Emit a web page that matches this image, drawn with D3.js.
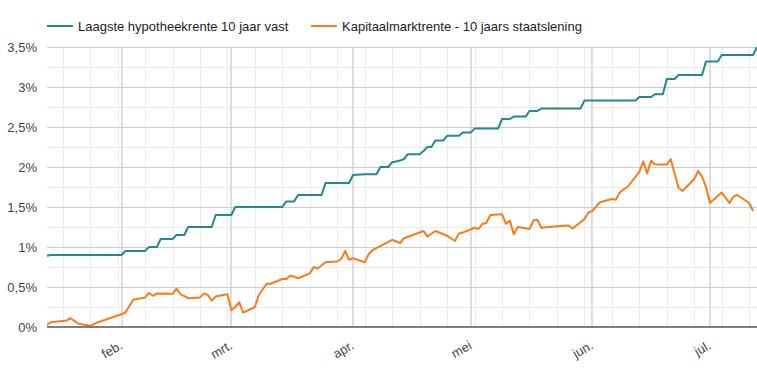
<!DOCTYPE html>
<html>
<head>
<meta charset="utf-8">
<script src="https://cdn.jsdelivr.net/npm/d3@7"></script>
<style>
  body { margin: 0; background: #fff; }
  svg { font-family: "Liberation Sans", Arial, sans-serif; }
</style>
</head>
<body>
<div id="chart"></div>
<script>
// Laagste hypotheekrente 10 jaar vast (%)
const hypotheekrente = [
    ['2022-01-13', 0.89], ['2022-01-14', 0.90], ['2022-02-01', 0.90], ['2022-02-02', 0.95],
    ['2022-02-07', 0.95], ['2022-02-08', 1.00], ['2022-02-10', 1.00], ['2022-02-11', 1.10],
    ['2022-02-14', 1.10], ['2022-02-15', 1.15], ['2022-02-17', 1.15], ['2022-02-18', 1.25],
    ['2022-02-24', 1.25], ['2022-02-25', 1.40], ['2022-03-01', 1.40], ['2022-03-02', 1.50],
    ['2022-03-14', 1.50], ['2022-03-15', 1.57], ['2022-03-17', 1.57], ['2022-03-18', 1.65],
    ['2022-03-24', 1.65], ['2022-03-25', 1.80], ['2022-03-31', 1.80], ['2022-04-01', 1.90],
    ['2022-04-04', 1.91], ['2022-04-07', 1.91], ['2022-04-08', 2.00], ['2022-04-10', 2.00],
    ['2022-04-11', 2.06], ['2022-04-12', 2.07], ['2022-04-13', 2.08], ['2022-04-14', 2.10],
    ['2022-04-15', 2.16], ['2022-04-18', 2.16], ['2022-04-19', 2.20], ['2022-04-20', 2.25],
    ['2022-04-21', 2.25], ['2022-04-22', 2.33], ['2022-04-24', 2.33], ['2022-04-25', 2.39],
    ['2022-04-28', 2.39], ['2022-04-29', 2.43], ['2022-05-01', 2.43], ['2022-05-02', 2.48],
    ['2022-05-08', 2.48], ['2022-05-09', 2.60], ['2022-05-11', 2.60], ['2022-05-12', 2.63],
    ['2022-05-15', 2.63], ['2022-05-16', 2.70], ['2022-05-18', 2.70], ['2022-05-19', 2.73],
    ['2022-05-29', 2.73], ['2022-05-30', 2.83], ['2022-06-12', 2.83], ['2022-06-13', 2.875],
    ['2022-06-16', 2.875], ['2022-06-17', 2.91], ['2022-06-19', 2.91], ['2022-06-20', 3.10],
    ['2022-06-22', 3.10], ['2022-06-23', 3.15], ['2022-06-29', 3.15], ['2022-06-30', 3.32],
    ['2022-07-03', 3.32], ['2022-07-04', 3.40], ['2022-07-12', 3.40], ['2022-07-13', 3.50]
];

// Kapitaalmarktrente - 10 jaars staatslening (%)
const staatslening = [
    ['2022-01-13', 0.025], ['2022-01-14', 0.06], ['2022-01-18', 0.08], ['2022-01-19', 0.11],
    ['2022-01-20', 0.075], ['2022-01-21', 0.04], ['2022-01-24', 0.015], ['2022-01-26', 0.06],
    ['2022-02-01', 0.16], ['2022-02-02', 0.18], ['2022-02-04', 0.34], ['2022-02-07', 0.37],
    ['2022-02-08', 0.425], ['2022-02-09', 0.39], ['2022-02-10', 0.42], ['2022-02-14', 0.415],
    ['2022-02-15', 0.48], ['2022-02-16', 0.41], ['2022-02-18', 0.36], ['2022-02-21', 0.37],
    ['2022-02-22', 0.42], ['2022-02-23', 0.40], ['2022-02-24', 0.33], ['2022-02-25', 0.38],
    ['2022-02-28', 0.41], ['2022-03-01', 0.21], ['2022-03-02', 0.25], ['2022-03-03', 0.31],
    ['2022-03-04', 0.18], ['2022-03-07', 0.25], ['2022-03-08', 0.40], ['2022-03-10', 0.54],
    ['2022-03-11', 0.54], ['2022-03-14', 0.60], ['2022-03-15', 0.60], ['2022-03-16', 0.64],
    ['2022-03-17', 0.63], ['2022-03-18', 0.61], ['2022-03-21', 0.67], ['2022-03-22', 0.75],
    ['2022-03-23', 0.73], ['2022-03-25', 0.81], ['2022-03-28', 0.82], ['2022-03-29', 0.85],
    ['2022-03-30', 0.95], ['2022-03-31', 0.84], ['2022-04-01', 0.86], ['2022-04-04', 0.81],
    ['2022-04-05', 0.91], ['2022-04-06', 0.96], ['2022-04-11', 1.09], ['2022-04-13', 1.05],
    ['2022-04-14', 1.11], ['2022-04-19', 1.20], ['2022-04-20', 1.13], ['2022-04-22', 1.20],
    ['2022-04-25', 1.14], ['2022-04-27', 1.075], ['2022-04-28', 1.17], ['2022-04-29', 1.18],
    ['2022-05-02', 1.24], ['2022-05-03', 1.225], ['2022-05-04', 1.29], ['2022-05-05', 1.30],
    ['2022-05-06', 1.40], ['2022-05-09', 1.41], ['2022-05-10', 1.29], ['2022-05-11', 1.33],
    ['2022-05-12', 1.16], ['2022-05-13', 1.25], ['2022-05-16', 1.225], ['2022-05-17', 1.33],
    ['2022-05-18', 1.34], ['2022-05-19', 1.24], ['2022-05-23', 1.26], ['2022-05-26', 1.27],
    ['2022-05-27', 1.23], ['2022-05-30', 1.35], ['2022-05-31', 1.43], ['2022-06-01', 1.45],
    ['2022-06-03', 1.56], ['2022-06-06', 1.60], ['2022-06-07', 1.59], ['2022-06-08', 1.68],
    ['2022-06-09', 1.72], ['2022-06-10', 1.75], ['2022-06-13', 1.94], ['2022-06-14', 2.07],
    ['2022-06-15', 1.92], ['2022-06-16', 2.08], ['2022-06-17', 2.03], ['2022-06-20', 2.03],
    ['2022-06-21', 2.10], ['2022-06-22', 1.92], ['2022-06-23', 1.74], ['2022-06-24', 1.70],
    ['2022-06-27', 1.85], ['2022-06-28', 1.95], ['2022-06-29', 1.88], ['2022-06-30', 1.75],
    ['2022-07-01', 1.55], ['2022-07-04', 1.68], ['2022-07-06', 1.55], ['2022-07-07', 1.63],
    ['2022-07-08', 1.65], ['2022-07-11', 1.55], ['2022-07-12', 1.45]
];

const seriesNames = ['Laagste hypotheekrente 10 jaar vast', 'Kapitaalmarktrente - 10 jaars staatslening'];
const seriesColors = ['#22898c', '#f97b1b'];

const monthTicks = ['2022-02-01', '2022-03-01', '2022-04-01', '2022-05-01', '2022-06-01', '2022-07-01'];
const monthLabels = ['feb.', 'mrt.', 'apr.', 'mei', 'jun.', 'jul.'];
const yTicks = [0, 0.5, 1, 1.5, 2, 2.5, 3, 3.5];
const yTickLabels = ['0%', '0,5%', '1%', '1,5%', '2%', '2,5%', '3%', '3,5%'];
const dateRange = ['2022-01-13', '2022-07-13'];

const W = 757, H = 374;
const plot = { left: 47, right: 757, top: 47, bottom: 327 };
const parse = d3.timeParse('%Y-%m-%d');

const svg = d3.select('#chart')
    .append('svg')
    .attr('width', W)
    .attr('height', H);

const x = d3.scaleTime()
    .domain(dateRange.map(parse))
    .range([plot.left, plot.right]);

const y = d3.scaleLinear()
    .domain([0, 3.5])
    .range([plot.bottom, plot.top]);

// minor horizontal gridlines (every 0,25%)
const minorY = d3.range(0.25, 3.5, 0.5);
svg.append('g')
    .selectAll('line')
    .data(minorY)
    .enter()
    .append('line')
    .attr('x1', plot.left).attr('x2', plot.right)
    .attr('y1', d => Math.round(y(d)) + 0.5).attr('y2', d => Math.round(y(d)) + 0.5)
    .attr('stroke', '#ececec');

// weekly vertical gridlines (mondays)
const mondays = d3.timeMonday.range(x.domain()[0], x.domain()[1]);
svg.append('g')
    .selectAll('line')
    .data(mondays)
    .enter()
    .append('line')
    .attr('x1', d => Math.round(x(d)) + 0.5).attr('x2', d => Math.round(x(d)) + 0.5)
    .attr('y1', plot.top).attr('y2', plot.bottom)
    .attr('stroke', '#ebebeb');

// month gridlines
svg.append('g')
    .selectAll('line')
    .data(monthTicks.map(parse))
    .enter()
    .append('line')
    .attr('x1', d => Math.round(x(d))).attr('x2', d => Math.round(x(d)))
    .attr('y1', plot.top).attr('y2', plot.bottom)
    .attr('stroke', '#dddddd')
    .attr('stroke-width', 2);

// major horizontal gridlines
svg.append('g')
    .selectAll('line')
    .data(yTicks.filter(d => d > 0))
    .enter()
    .append('line')
    .attr('x1', plot.left).attr('x2', plot.right)
    .attr('y1', d => Math.round(y(d)) + 0.5).attr('y2', d => Math.round(y(d)) + 0.5)
    .attr('stroke', '#cccccc');

// y axis labels
svg.append('g')
    .selectAll('text')
    .data(yTicks)
    .enter()
    .append('text')
    .attr('x', 37)
    .attr('y', d => y(d) + 4.5)
    .attr('text-anchor', 'end')
    .attr('font-size', 13)
    .attr('fill', '#444')
    .text((d, i) => yTickLabels[i]);

// x axis labels, slanted
svg.append('g')
    .selectAll('text')
    .data(monthTicks.map(parse))
    .enter()
    .append('text')
    .attr('transform', d => 'translate(' + (x(d) + 2) + ',348) rotate(-30)')
    .attr('text-anchor', 'end')
    .attr('font-size', 13)
    .attr('fill', '#444')
    .text((d, i) => monthLabels[i]);

// lines
const line = d3.line()
    .x(d => x(parse(d[0])))
    .y(d => y(d[1]));

[hypotheekrente, staatslening].forEach((data, i) => {
    svg.append('path')
        .datum(data)
        .attr('fill', 'none')
        .attr('stroke', seriesColors[i])
        .attr('stroke-width', 2)
        .attr('stroke-linejoin', 'round')
        .attr('d', line);
});

// baseline
svg.append('line')
    .attr('x1', plot.left).attr('x2', plot.right)
    .attr('y1', y(0)).attr('y2', y(0))
    .attr('stroke', '#555')
    .attr('stroke-width', 1.5);

// legend
const legendX = [47, 311];
const legend = svg.append('g')
    .selectAll('g')
    .data(seriesNames)
    .enter()
    .append('g')
    .attr('transform', (d, i) => 'translate(' + legendX[i] + ',26)');

legend.append('line')
    .attr('x1', 0).attr('x2', 26)
    .attr('stroke', (d, i) => seriesColors[i])
    .attr('stroke-width', 2);

legend.append('text')
    .attr('x', 31)
    .attr('y', 4.5)
    .attr('font-size', 13)
    .attr('fill', '#222')
    .text(d => d);
</script>
</body>
</html>
